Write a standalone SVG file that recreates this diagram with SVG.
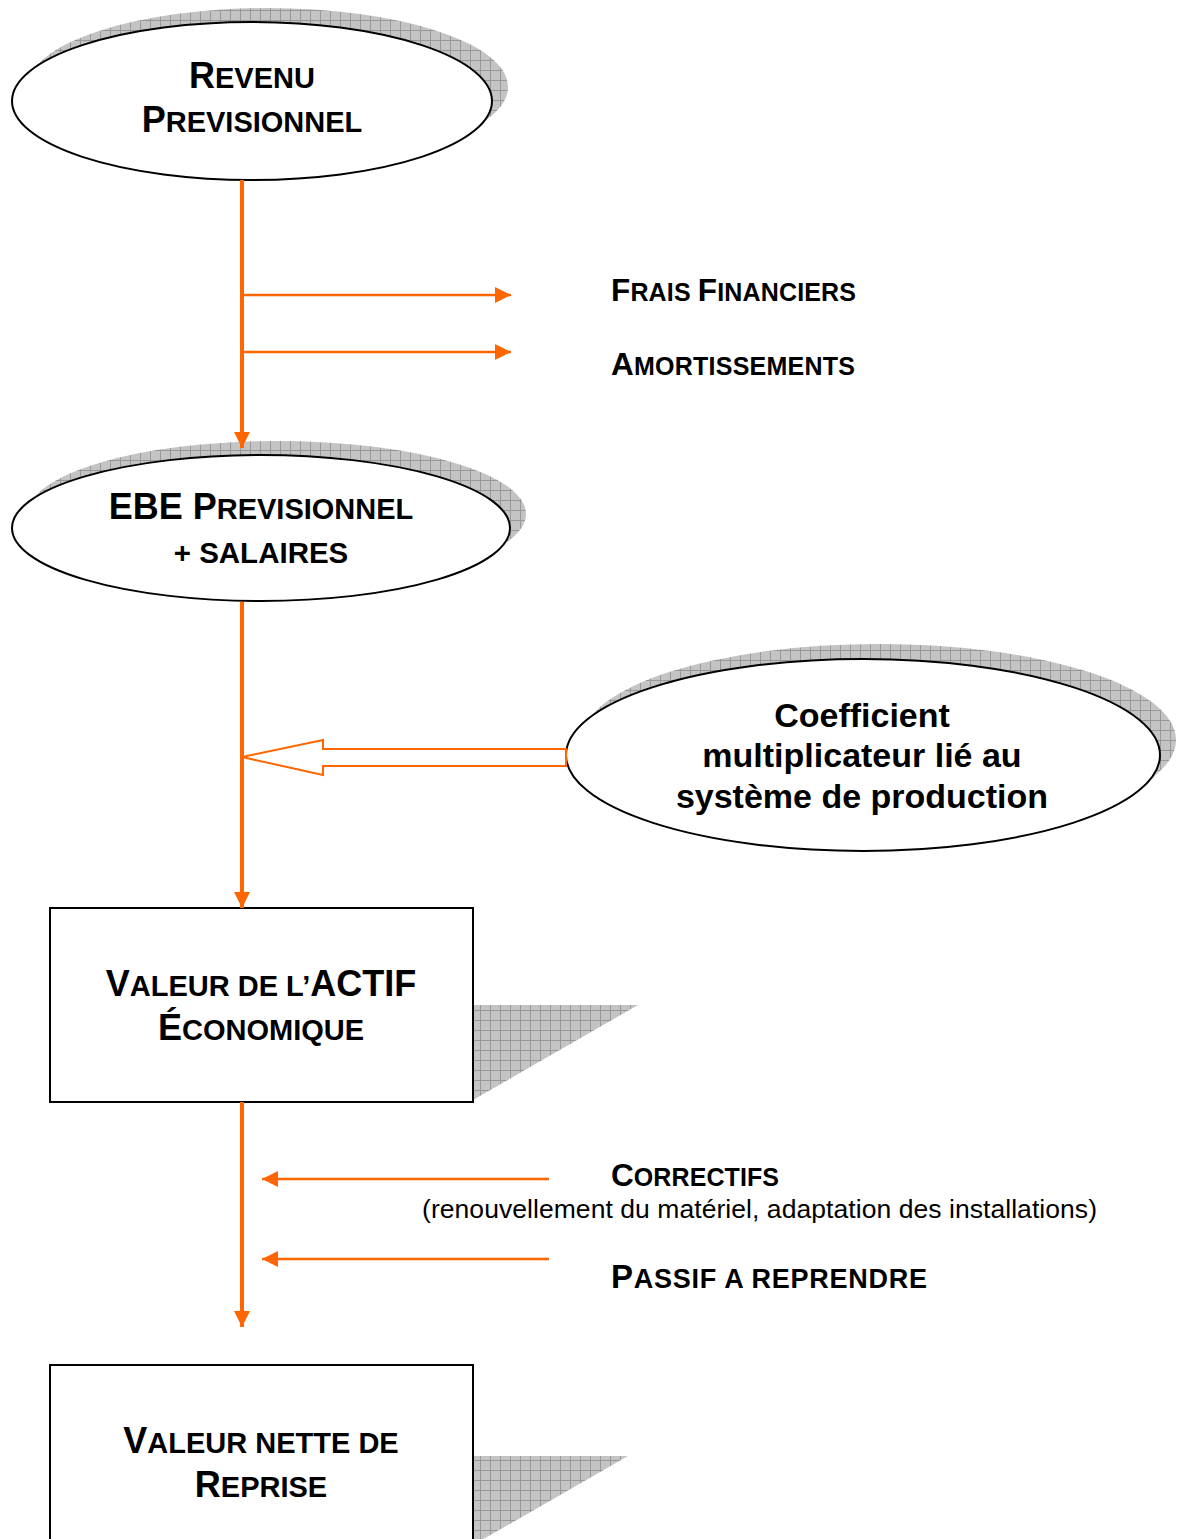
<svg xmlns="http://www.w3.org/2000/svg" width="1185" height="1539" viewBox="0 0 1185 1539">
  <style>
    .node { fill: #ffffff; stroke: #000000; stroke-width: 2; }
    .shadow { fill: url(#grid); stroke: none; }
    .t { font-family: "Liberation Sans", Arial, sans-serif; font-weight: bold; fill: #000000; }
    .plain { font-family: "Liberation Sans", Arial, sans-serif; font-weight: normal; fill: #000000; }
    .main { stroke: #ff6600; stroke-width: 4; fill: none; }
    .side { stroke: #ff6600; stroke-width: 2.5; fill: none; }
    .hollow { stroke: #ff6600; stroke-width: 2; fill: #ffffff; }
  </style>
  <defs>
    <pattern id="grid" width="10" height="10" patternUnits="userSpaceOnUse">
      <rect width="10" height="10" fill="#c4c4c4"/>
      <path d="M0 0.5H10M0.5 0V10" stroke="#989898" stroke-width="1"/>
    </pattern>
    <marker id="headBig" viewBox="0 0 10 10" refX="10" refY="5" markerWidth="4" markerHeight="4" markerUnits="strokeWidth" orient="auto">
      <path d="M0 0L10 5L0 10Z" fill="#ff6600"/>
    </marker>
    <marker id="headSmall" viewBox="0 0 10 10" refX="10" refY="5" markerWidth="6.4" markerHeight="6.4" markerUnits="strokeWidth" orient="auto">
      <path d="M0 0L10 5L0 10Z" fill="#ff6600"/>
    </marker>
  </defs>

  <!-- drop shadows -->
  <ellipse class="shadow" cx="268" cy="87" rx="240" ry="79"/>
  <ellipse class="shadow" cx="277" cy="514" rx="249" ry="73"/>
  <ellipse class="shadow" cx="879" cy="740" rx="297" ry="96"/>
  <polygon class="shadow" points="473,1005 638,1005 473,1100"/>
  <polygon class="shadow" points="473,1456 628,1456 473,1545"/>

  <!-- Revenu prévisionnel -->
  <g id="revenu">
    <ellipse class="node" cx="252" cy="101" rx="240" ry="79"/>
    <text class="t" x="252" y="88" text-anchor="middle"><tspan font-size="36">R</tspan><tspan font-size="29">EVENU</tspan></text>
    <text class="t" x="252" y="132" text-anchor="middle"><tspan font-size="36">P</tspan><tspan font-size="29">REVISIONNEL</tspan></text>
  </g>

  <!-- EBE prévisionnel + salaires -->
  <g id="ebe">
    <ellipse class="node" cx="261" cy="528" rx="249" ry="73"/>
    <text class="t" x="261" y="519" text-anchor="middle"><tspan font-size="36">EBE P</tspan><tspan font-size="29">REVISIONNEL</tspan></text>
    <text class="t" x="261" y="563" text-anchor="middle" font-size="29.5">+ SALAIRES</text>
  </g>

  <!-- Coefficient multiplicateur -->
  <g id="coefficient">
    <ellipse class="node" cx="863" cy="755" rx="297" ry="96"/>
    <text class="t" x="862" y="727" text-anchor="middle" font-size="34">Coefficient</text>
    <text class="t" x="862" y="767" text-anchor="middle" font-size="34">multiplicateur lié au</text>
    <text class="t" x="862" y="808" text-anchor="middle" font-size="34">système de production</text>
  </g>

  <!-- Valeur de l'actif économique -->
  <g id="actif">
    <rect class="node" x="50" y="908" width="423" height="194"/>
    <text class="t" x="261" y="996" text-anchor="middle"><tspan font-size="36">V</tspan><tspan font-size="29">ALEUR DE L’</tspan><tspan font-size="36">ACTIF</tspan></text>
    <text class="t" x="261" y="1040" text-anchor="middle"><tspan font-size="36">É</tspan><tspan font-size="29">CONOMIQUE</tspan></text>
  </g>

  <!-- Valeur nette de reprise -->
  <g id="reprise">
    <rect class="node" x="50" y="1365" width="423" height="200"/>
    <text class="t" x="261" y="1453" text-anchor="middle"><tspan font-size="36">V</tspan><tspan font-size="29">ALEUR NETTE DE</tspan></text>
    <text class="t" x="261" y="1497" text-anchor="middle"><tspan font-size="36">R</tspan><tspan font-size="29">EPRISE</tspan></text>
  </g>

  <!-- side labels -->
  <g id="frais">
    <text class="t" x="611" y="301" textLength="245" lengthAdjust="spacing"><tspan font-size="31.5">F</tspan><tspan font-size="25">RAIS </tspan><tspan font-size="31.5">F</tspan><tspan font-size="25">INANCIERS</tspan></text>
  </g>
  <g id="amortissements">
    <text class="t" x="611" y="375" textLength="244" lengthAdjust="spacing"><tspan font-size="31.5">A</tspan><tspan font-size="25">MORTISSEMENTS</tspan></text>
  </g>
  <g id="correctifs">
    <text class="t" x="611" y="1186" textLength="168" lengthAdjust="spacing"><tspan font-size="31.5">C</tspan><tspan font-size="25">ORRECTIFS</tspan></text>
    <text class="plain" x="422" y="1218" font-size="26.5" textLength="675" lengthAdjust="spacing">(renouvellement du matériel, adaptation des installations)</text>
  </g>
  <g id="passif">
    <text class="t" x="611" y="1288" textLength="316" lengthAdjust="spacing"><tspan font-size="33">P</tspan><tspan font-size="27">ASSIF A REPRENDRE</tspan></text>
  </g>

  <!-- connectors -->
  <g id="connectors">
    <line class="main" x1="242" y1="180" x2="242" y2="448" marker-end="url(#headBig)"/>
    <line class="side" x1="244" y1="295" x2="511" y2="295" marker-end="url(#headSmall)"/>
    <line class="side" x1="244" y1="352" x2="511" y2="352" marker-end="url(#headSmall)"/>
    <line class="main" x1="242" y1="602" x2="242" y2="908" marker-end="url(#headBig)"/>
    <polygon class="hollow" points="242,757 323,740 323,749 566,749 566,766 323,766 323,775"/>
    <line class="main" x1="242" y1="1102" x2="242" y2="1327" marker-end="url(#headBig)"/>
    <line class="side" x1="549" y1="1179" x2="262" y2="1179" marker-end="url(#headSmall)"/>
    <line class="side" x1="549" y1="1259" x2="262" y2="1259" marker-end="url(#headSmall)"/>
  </g>
</svg>
